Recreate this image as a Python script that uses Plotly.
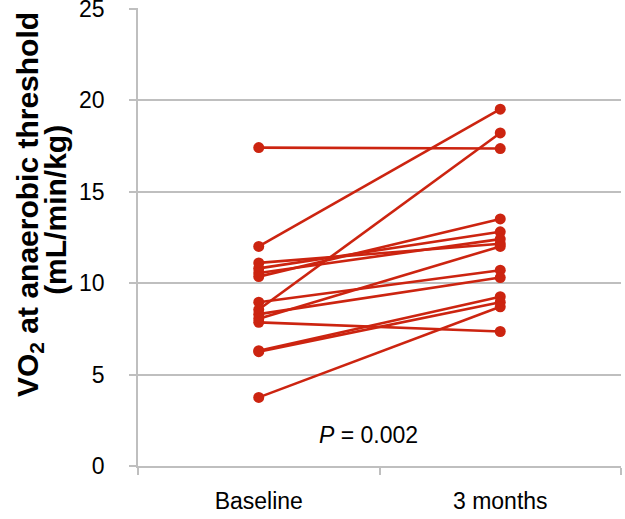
import plotly.graph_objects as go

categories = ["Baseline", "3 months"]
baseline = [17.4, 12.0, 11.1, 10.8, 10.55, 10.35, 8.95, 8.55, 8.3, 8.05, 7.85, 6.3, 6.25, 3.75]
three_months = [17.35, 19.5, 12.15, 12.8, 12.4, 13.5, 10.7, 18.2, 10.3, 12.0, 7.35, 9.25, 8.95, 8.7]
y_ticks = [0, 5, 10, 15, 20, 25]
p_text = "<i>P</i> = 0.002"
title_line1 = "<b>VO<sub>2</sub> at anaerobic threshold</b>"
title_line2 = "<b>(mL/min/kg)</b>"

RED = "#cc2410"
GRID = "#bfbfbf"
FONT = "Liberation Sans, Arial"

fig = go.Figure()
for b, m in zip(baseline, three_months):
    fig.add_trace(go.Scatter(
        x=categories, y=[b, m], mode="lines+markers",
        line=dict(color=RED, width=2.6),
        marker=dict(color=RED, size=11),
        showlegend=False, hoverinfo="skip"))

fig.add_annotation(x=0.478, xref="paper", y=1.69, yref="y", text=p_text,
                   showarrow=False, font=dict(size=23, color="#000000", family=FONT))
fig.add_annotation(x=-0.2257, xref="paper", y=0.572, yref="paper", text=title_line1,
                   textangle=-90, showarrow=False, xanchor="center", yanchor="middle",
                   font=dict(size=30, color="#000000", family=FONT))
fig.add_annotation(x=-0.17, xref="paper", y=0.559, yref="paper", text=title_line2,
                   textangle=-90, showarrow=False, xanchor="center", yanchor="middle",
                   font=dict(size=30, color="#000000", family=FONT))

fig.update_layout(
    width=625, height=519,
    margin=dict(l=138, r=4, t=8, b=53, autoexpand=False),
    paper_bgcolor="white", plot_bgcolor="white",
    font=dict(family=FONT, size=23, color="#000000"),
    xaxis=dict(type="category", range=[-0.5, 1.5], showgrid=False,
               showline=True, linecolor=GRID, linewidth=1.5,
               ticks="outside", tickson="boundaries", ticklen=7, tickcolor=GRID, tickwidth=1.5,
               ticklabelstandoff=14, zeroline=False, automargin=False),
    yaxis=dict(range=[0, 25.03], tickvals=y_ticks, showgrid=True, gridcolor=GRID, gridwidth=1.5,
               showline=True, linecolor=GRID, linewidth=1.5,
               ticks="outside", ticklen=7, tickcolor=GRID, tickwidth=1.5, zeroline=False,
               ticklabelstandoff=20, ticklabeloverflow="allow", automargin=False),
)

fig.write_html("out.html", config={"displayModeBar": False},
               post_script="document.body.style.margin='0';")
